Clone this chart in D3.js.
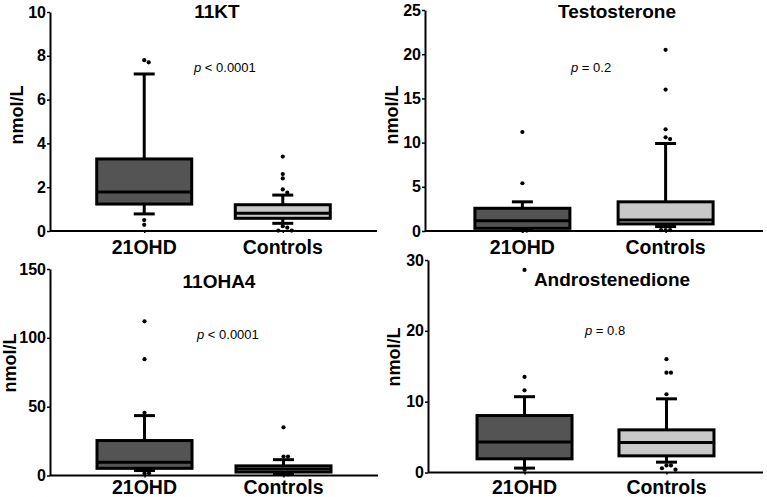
<!DOCTYPE html>
<html><head><meta charset="utf-8">
<script src="https://cdn.jsdelivr.net/npm/d3@7"></script>
<style>
html,body{margin:0;padding:0;background:#fff;}
text{font-family:"Liberation Sans",Arial,Helvetica,sans-serif;}
</style></head>
<body>
<svg id="chart" width="767" height="497"></svg>
<script>
// ---- data ----
const categories = ["21OHD", "Controls"];
const titles = ["11KT", "Testosterone", "11OHA4", "Androstenedione"];
const pOps = ["<", "=", "<", "="];
const pVals = ["0.0001", "0.2", "0.0001", "0.8"];
const yMaxes = [10, 25, 150, 30];
const yTicks = [[0, 2, 4, 6, 8, 10], [0, 5, 10, 15, 20, 25], [0, 50, 100, 150], [0, 10, 20, 30]];
// box stats: [whisker low, q1, median, q3, whisker high]
const kt11_21OHD = [0.78, 1.23, 1.78, 3.29, 7.17];
const kt11_Controls = [0.35, 0.58, 0.81, 1.2, 1.64];
const testo_21OHD = [0.2, 0.3, 1.17, 2.57, 3.3];
const testo_Controls = [0.5, 0.8, 1.25, 3.3, 9.9];
const oha4_21OHD = [3.6, 5.2, 9.7, 25.4, 43.5];
const oha4_Controls = [1.5, 2.5, 4.8, 7.0, 11.5];
const andro_21OHD = [0.62, 1.93, 4.29, 8.04, 10.7];
const andro_Controls = [1.46, 2.35, 4.23, 6.02, 10.4];
// outliers
const kt11_21OHD_out = [7.8, 7.7, 0.5, 0.28];
const kt11_Controls_out = [3.4, 2.6, 2.4, 1.9, 1.75, 0.22, 0.15, 0.02, 0.02];
const testo_21OHD_out = [11.2, 5.4, 0.05, 0.05];
const testo_Controls_out = [20.5, 16.0, 11.5, 10.6, 10.4, 0.1, 0.1, 0.1];
const oha4_21OHD_out = [112, 84.5, 45.5, 1.6, 1.6];
const oha4_Controls_out = [35, 13.8, 13.8, 0.8, 0.8];
const andro_21OHD_out = [28.6, 13.5, 11.6, 0.4];
const andro_Controls_out = [16.0, 14.1, 14.1, 11.05, 1.0, 0.6, 0.4, 1.0];

const stats = [[kt11_21OHD, kt11_Controls], [testo_21OHD, testo_Controls], [oha4_21OHD, oha4_Controls], [andro_21OHD, andro_Controls]];
const outs = [[kt11_21OHD_out, kt11_Controls_out], [testo_21OHD_out, testo_Controls_out], [oha4_21OHD_out, oha4_Controls_out], [andro_21OHD_out, andro_Controls_out]];

// ---- layout ----
const panels = [
  {l: 50, r: 377, t: 12, b: 231, tx: 217, ty: 18, px: 194, py: 72, ylx: 23, yly: 115, xly: 254},
  {l: 425, r: 763, t: 10, b: 231, tx: 617, ty: 18, px: 571, py: 72, ylx: 398, yly: 115, xly: 254},
  {l: 50, r: 378, t: 269, b: 475.5, tx: 219, ty: 288, px: 197, py: 339, ylx: 16, yly: 363, xly: 494},
  {l: 428, r: 763, t: 260, b: 472.5, tx: 612, ty: 286, px: 585, py: 335, ylx: 400, yly: 357, xly: 494}
];
const fills = ["#545454", "#c8c8c8"];
const boxW = 95, capW = 21;

const svg = d3.select("#chart");

panels.forEach((P, i) => {
  const g = svg.append("g");
  const y = d3.scaleLinear().domain([0, yMaxes[i]]).range([P.b, P.t]);
  const x = d3.scalePoint().domain(categories).range([P.l, P.r]).padding(0.68);

  // y axis
  const ya = g.append("g").attr("transform", `translate(${P.l},0)`)
    .call(d3.axisLeft(y).tickValues(yTicks[i]).tickSize(3).tickPadding(1).tickSizeOuter(0));
  ya.select(".domain").attr("stroke", "#000").attr("stroke-width", 2);
  ya.selectAll(".tick line").attr("stroke-width", 1.5);
  ya.selectAll(".tick text").attr("font-size", 16).attr("font-weight", "bold").attr("fill", "#000")
    .style("font-family", '"Liberation Sans",Arial,sans-serif');

  // x axis
  const xa = g.append("g").attr("transform", `translate(0,${P.b})`)
    .call(d3.axisBottom(x).tickSize(2).tickSizeOuter(0).tickFormat(""));
  xa.select(".domain").attr("stroke", "#000").attr("stroke-width", 2)
    .attr("d", `M${P.l},0H${P.r}`);
  xa.selectAll(".tick line").attr("stroke-width", 1.5);

  categories.forEach((c, k) => {
    g.append("text").attr("x", x(c)).attr("y", P.xly).attr("text-anchor", "middle")
      .attr("font-size", 19.5).attr("font-weight", "bold").text(c);
  });

  // boxes
  categories.forEach((c, k) => {
    const s = stats[i][k];
    const cx = x(c);
    const sw = 3;
    g.append("line").attr("x1", cx).attr("x2", cx).attr("y1", y(s[3])).attr("y2", y(s[4]))
      .attr("stroke", "#000").attr("stroke-width", sw);
    g.append("line").attr("x1", cx).attr("x2", cx).attr("y1", y(s[1])).attr("y2", y(s[0]))
      .attr("stroke", "#000").attr("stroke-width", sw);
    [s[0], s[4]].forEach(v => {
      g.append("line").attr("x1", cx - capW / 2).attr("x2", cx + capW / 2).attr("y1", y(v)).attr("y2", y(v))
        .attr("stroke", "#000").attr("stroke-width", sw);
    });
    g.append("rect").attr("x", cx - boxW / 2).attr("width", boxW)
      .attr("y", y(s[3])).attr("height", Math.max(0.1, y(s[1]) - y(s[3])))
      .attr("fill", fills[k]).attr("stroke", "#000").attr("stroke-width", sw);
    g.append("line").attr("x1", cx - boxW / 2).attr("x2", cx + boxW / 2).attr("y1", y(s[2])).attr("y2", y(s[2]))
      .attr("stroke", "#000").attr("stroke-width", sw);

    // outliers with simple dodge
    const pts = outs[i][k].slice().sort((a, b) => b - a);
    let prevY = -1e9, run = 0;
    pts.forEach(v => {
      const py = y(v);
      if (Math.abs(py - prevY) < 4) run++; else run = 0;
      prevY = py;
      const off = run === 0 ? 0 : (run % 2 ? 1 : -1) * Math.ceil(run / 2) * 4.5;
      g.append("circle").attr("cx", cx + off).attr("cy", py).attr("r", 2.1).attr("fill", "#000");
    });
  });

  // title
  g.append("text").attr("x", P.tx).attr("y", P.ty).attr("text-anchor", "middle")
    .attr("font-size", 19).attr("font-weight", "bold").text(titles[i]);
  // p value
  const pt = g.append("text").attr("x", P.px).attr("y", P.py).attr("font-size", 13);
  pt.append("tspan").attr("font-style", "italic").text("p");
  pt.append("tspan").text(` ${pOps[i]} ${pVals[i]}`);
  // y label
  g.append("text").attr("transform", `translate(${P.ylx},${P.yly}) rotate(-90)`)
    .attr("text-anchor", "middle").attr("font-size", 18).attr("font-weight", "bold").text("nmol/L");
});
</script>
</body></html>
